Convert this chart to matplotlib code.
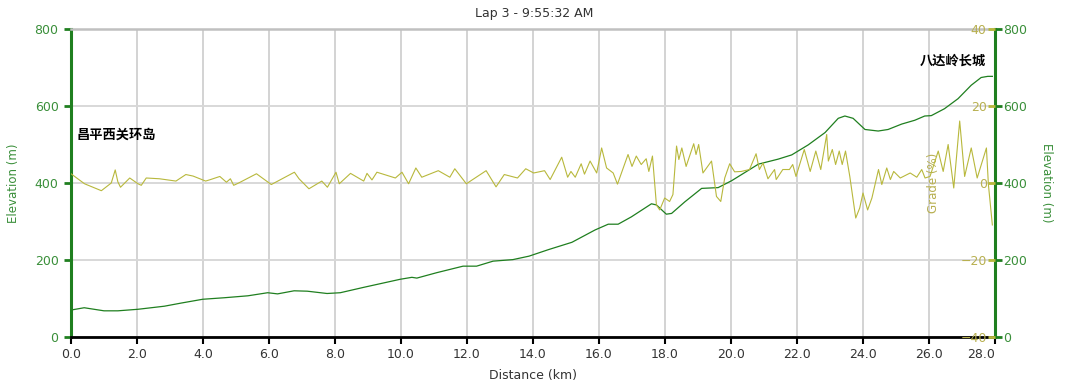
import numpy as np
import matplotlib.pyplot as plt

# elevation profile (km, m)
elev_km = [0.0, 0.4, 1.0, 1.42, 2.03, 2.83, 3.33, 3.99, 4.65, 5.36, 5.96, 6.26, 6.76, 7.16,
           7.76, 8.16, 8.87, 9.98, 10.33, 10.48, 11.08, 11.88, 12.29, 12.79, 13.39, 13.88,
           14.47, 15.18, 15.88, 16.28, 16.58, 16.98, 17.59, 17.74, 18.04, 18.2, 18.6, 19.11,
           19.61, 20.02, 20.83, 21.43, 21.84, 22.34, 22.85, 23.25, 23.45, 23.7, 24.06, 24.46,
           24.76, 25.17, 25.57, 25.87, 26.07, 26.47, 26.88, 27.28, 27.58, 27.78, 27.92]
elev_m = [70, 76, 68, 68, 72, 80, 88, 98, 102, 107, 115, 112, 120, 119,
          113, 115, 129, 150, 155, 153, 167, 184, 184, 197, 201, 210,
          227, 246, 278, 293, 293, 312, 346, 343, 319, 321, 351, 386,
          388, 406, 449, 462, 473, 499, 531, 568, 574, 568, 539, 535,
          539, 553, 563, 574, 575, 593, 619, 654, 674, 677, 677]

# grade (km, %)
grade_km = [0.0, 0.41, 0.92, 1.22, 1.34, 1.42, 1.5, 1.78, 2.03, 2.13, 2.28, 2.68, 3.18, 3.48,
            3.7, 4.08, 4.23, 4.51, 4.71, 4.83, 4.93, 5.08, 5.62, 6.07, 6.77, 6.91, 7.21, 7.6,
            7.77, 8.03, 8.13, 8.47, 8.87, 8.97, 9.12, 9.27, 9.83, 10.03, 10.23, 10.45, 10.63,
            11.13, 11.48, 11.63, 11.98, 12.58, 12.88, 13.13, 13.53, 13.78, 14.02, 14.35, 14.52,
            14.87, 15.05, 15.15, 15.28, 15.46, 15.56, 15.73, 15.93, 16.08, 16.23, 16.43, 16.56,
            16.88, 17.0, 17.13, 17.28, 17.43, 17.51, 17.62, 17.74, 17.84, 17.99, 18.14, 18.24,
            18.35, 18.42, 18.51, 18.64, 18.87, 18.94, 19.02, 19.15, 19.41, 19.56, 19.69, 19.81,
            19.96, 20.11, 20.31, 20.56, 20.76, 20.86, 20.97, 21.12, 21.32, 21.37, 21.57, 21.77,
            21.87, 21.97, 22.22, 22.4, 22.57, 22.72, 22.9, 22.95, 23.07, 23.17, 23.28, 23.37,
            23.47, 23.6, 23.78, 23.9, 24.0, 24.14, 24.27, 24.47, 24.57, 24.72, 24.83, 24.93,
            25.13, 25.43, 25.63, 25.78, 25.88, 26.03, 26.28, 26.43, 26.58, 26.75, 26.93, 27.08,
            27.28, 27.46, 27.74, 27.8, 27.92]
grade_pct = [2.4, -0.2, -2.0, 0.0, 3.4, 0.3, -1.1, 1.3, -0.2, -0.6, 1.3, 1.1, 0.5, 2.2,
             1.8, 0.5, 0.9, 1.7, 0.2, 1.1, -0.6, 0.0, 2.4, -0.4, 2.8, 1.1, -1.5, 0.5,
             -1.1, 2.8, -0.2, 2.5, 0.5, 2.5, 0.8, 2.8, 1.3, 2.8, -0.2, 3.9, 1.5,
             3.2, 1.5, 3.7, -0.2, 3.2, -1.0, 2.2, 1.3, 3.7, 2.6, 3.2, 0.9,
             6.7, 1.5, 3.0, 1.5, 5.0, 2.3, 5.7, 2.6, 9.1, 3.9, 2.6, -0.3,
             7.4, 4.3, 7.0, 4.8, 6.3, 3.0, 7.0, -5.7, -7.0, -3.9, -4.8, -3.0,
             9.6, 6.1, 9.1, 4.3, 10.2, 7.4, 10.0, 2.6, 5.7, -3.5, -4.8, 1.3,
             5.0, 2.9, 3.0, 3.5, 7.6, 3.5, 5.2, 1.1, 3.5, 0.9, 3.5, 3.5,
             4.8, 1.7, 8.7, 3.0, 8.3, 3.5, 12.6, 5.7, 8.7, 4.8, 8.3, 4.8,
             8.3, 1.7, -9.1, -6.5, -2.6, -7.0, -3.9, 3.5, -0.4, 3.9, 0.9, 3.0,
             1.3, 2.6, 1.5, 3.5, 1.3, 1.7, 8.3, 3.0, 10.0, -1.3, 16.1, 1.7,
             9.1, 1.3, 9.1, -0.4, -10.9]

x_ticks = np.arange(0, 28.1, 2.0)
elev_ticks = [0, 200, 400, 600, 800]
grade_ticks = [-40, -20, 0, 20, 40]

green = "#1f7f1f"
green_txt = "#3a8f3a"
olive = "#b8b83c"
olive_txt = "#b8b050"

fig = plt.figure(figsize=(10.68, 3.89), dpi=100)
ax = fig.add_axes([71 / 1068, 52 / 389, 924 / 1068, 308 / 389])

ax.plot(elev_km, elev_m, color=green, lw=0.9, zorder=3)
ax.set_xlim(0, 28.0)
ax.set_ylim(0, 800)
ax.set_xticks(x_ticks)
ax.set_xticklabels([f"{t:.1f}" for t in x_ticks])
ax.set_yticks(elev_ticks)
ax.xaxis.grid(True, color="#c8c8c8", lw=1.1)
ax.yaxis.grid(True, color="#d8d8d8", lw=1.4)
ax.set_axisbelow(True)

ax.tick_params(axis="y", colors=green, labelcolor=green_txt, length=5, width=2, labelsize=9, pad=4)
ax.tick_params(axis="x", colors="black", labelcolor="#333333", length=5, width=1.5, labelsize=9, pad=3)
ax.xaxis.get_majorticklabels()[-1].set_ha("right")
ax.spines["left"].set_color(green)
ax.spines["left"].set_linewidth(2.2)
ax.spines["bottom"].set_color("black")
ax.spines["bottom"].set_linewidth(2)
ax.spines["top"].set_color("#c0c0c0")
ax.spines["top"].set_linewidth(1.8)
ax.spines["right"].set_visible(False)

ax.set_xlabel("Distance (km)", fontsize=9, color="#333333", labelpad=6)
ax.set_ylabel("Elevation (m)", fontsize=8.5, color=green_txt)
ax.yaxis.set_label_coords(-0.055, 0.5)

# right elevation axis
axr = ax.twinx()
axr.set_ylim(0, 800)
axr.set_yticks(elev_ticks)
axr.tick_params(axis="y", colors=green, labelcolor=green_txt, length=5, width=2, labelsize=9, pad=1)
for s in ["left", "top", "bottom"]:
    axr.spines[s].set_visible(False)
axr.spines["right"].set_color(green)
axr.spines["right"].set_linewidth(2.2)
axr.set_ylabel("Elevation (m)", fontsize=8.5, color=green_txt, rotation=270)
axr.yaxis.set_label_coords(1.063, 0.5)

# grade axis, ticks drawn to the left of the right spine
axg = ax.twinx()
axg.set_ylim(-40, 40)
axg.set_yticks(grade_ticks)
axg.yaxis.set_ticks_position("left")
axg.yaxis.set_label_position("left")
axg.spines["left"].set_position(("axes", 1.0))
axg.spines["left"].set_visible(False)
for s in ["right", "top", "bottom"]:
    axg.spines[s].set_visible(False)
axg.tick_params(axis="y", colors=olive, labelcolor=olive_txt, length=5, width=2, labelsize=9, pad=1)
axg.plot(grade_km, grade_pct, color=olive, lw=0.8, zorder=2)
axg.set_ylabel("Grade (%)", fontsize=8.5, color=olive_txt)
axg.yaxis.set_label_coords(0.9405, 0.5)

cjk = ["Noto Sans CJK SC", "DejaVu Sans"]
ax.text(0.17, 525, "昌平西关环岛", family=cjk, fontsize=9.5, fontweight="bold",
        ha="left", va="center", color="black", zorder=5)
ax.text(27.74, 717, "八达岭长城", family=cjk, fontsize=9.5, fontweight="bold",
        ha="right", va="center", color="black", zorder=5)

fig.text(0.5, 1 - 13 / 389, "Lap 3 - 9:55:32 AM", ha="center", va="center",
         fontsize=9, color="#333333")

fig.savefig("out.png", dpi=100)
